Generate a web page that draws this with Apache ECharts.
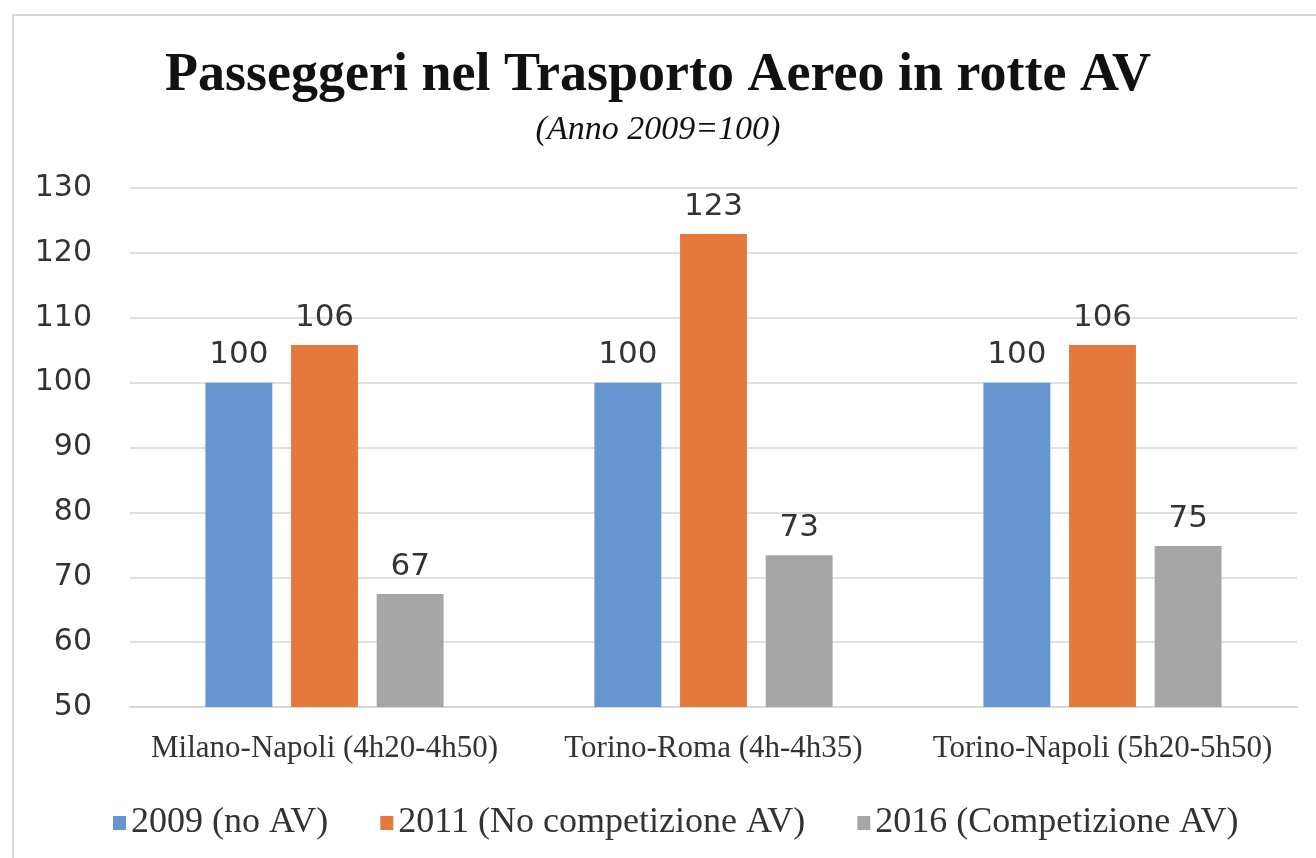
<!DOCTYPE html>
<html>
<head>
<meta charset="utf-8">
<script src="https://cdn.jsdelivr.net/npm/echarts@6/dist/echarts.min.js"></script>
<style>
  html,body{margin:0;padding:0;background:#fff;}
  #frame{position:absolute;left:12px;top:14px;width:1320px;height:860px;border:2px solid #d9d9d9;box-sizing:border-box;}
  #chart{position:absolute;left:0;top:0;width:1316px;height:858px;}
</style>
</head>
<body>
<div id="frame"></div>
<div id="chart"></div>
<script>
  // dati
  var routes = ['Milano-Napoli (4h20-4h50)', 'Torino-Roma (4h-4h35)', 'Torino-Napoli (5h20-5h50)'];
  var seriesNames = ['2009 (no AV)', '2011 (No competizione AV)', '2016 (Competizione AV)'];
  var v2009 = [100, 100, 100];
  var v2011 = [105.8, 122.9, 105.8];
  var v2016 = [67.4, 73.4, 74.8];
  var colors = ['#6596d0', '#e5793b', '#a6a6a6'];

  var serif = 'Liberation Serif';
  var sans = 'DejaVu Sans';

  function bar(name, data, color){
    return {
      name: name,
      type: 'bar',
      data: data,
      barWidth: '17.2%',
      barGap: '28%',
      itemStyle: {color: color},
      label: {
        show: true,
        position: 'top',
        distance: 12,
        color: '#333',
        fontFamily: sans,
        fontSize: 31,
        formatter: function(p){ return Math.round(p.value); }
      }
    };
  }

  var chart = echarts.init(document.getElementById('chart'));
  chart.setOption({
    animation: false,
    title: {
      text: 'Passeggeri nel Trasporto Aereo in rotte AV',
      subtext: '(Anno 2009=100)',
      left: 'center',
      top: 44,
      itemGap: 10,
      textStyle: {fontFamily: serif, fontWeight: 'bold', fontSize: 54, color: '#111'},
      subtextStyle: {fontFamily: serif, fontStyle: 'italic', fontSize: 34, color: '#111'}
    },
    legend: {
      data: seriesNames,
      left: 108,
      top: 800,
      icon: 'rect',
      itemWidth: 13,
      itemHeight: 14,
      itemGap: 52,
      textStyle: {fontFamily: serif, fontSize: 36, color: '#333'}
    },
    grid: {left: 130, right: 19, top: 188, bottom: 151},
    xAxis: {
      type: 'category',
      data: routes,
      axisTick: {show: false},
      axisLine: {lineStyle: {color: '#d9d9d9', width: 2}},
      axisLabel: {fontFamily: serif, fontSize: 31, color: '#333', margin: 26, interval: 0}
    },
    yAxis: {
      type: 'value',
      min: 50,
      max: 130,
      interval: 10,
      axisLine: {show: false},
      axisTick: {show: false},
      splitLine: {lineStyle: {color: '#e0e0e0', width: 2}},
      axisLabel: {fontFamily: sans, fontSize: 30, color: '#333', margin: 38}
    },
    series: [
      bar(seriesNames[0], v2009, colors[0]),
      bar(seriesNames[1], v2011, colors[1]),
      bar(seriesNames[2], v2016, colors[2])
    ]
  });
</script>
</body>
</html>
